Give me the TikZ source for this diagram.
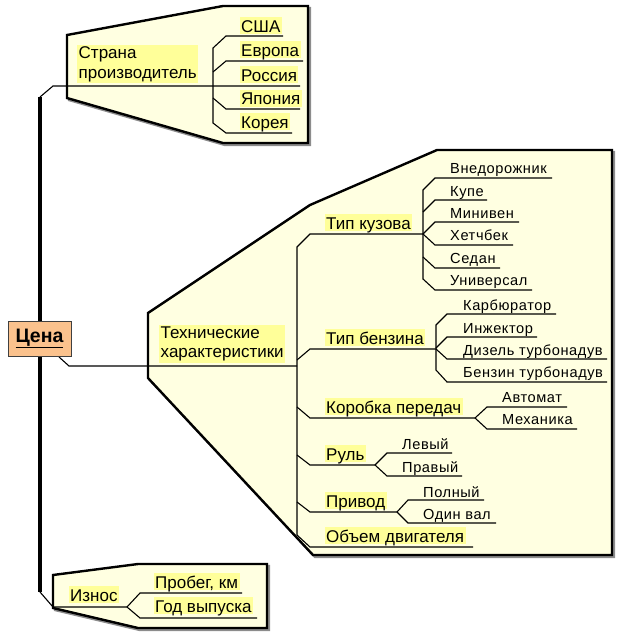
\documentclass[tikz,border=0pt]{standalone}
\usepackage{fontspec}
\setmainfont{Liberation Sans}
\newfontfamily\secfont[LetterSpace=4]{Liberation Sans}
\definecolor{boxfill}{RGB}{255,255,225}
\definecolor{hl}{RGB}{255,255,153}
\definecolor{peach}{RGB}{251,194,141}
\tikzset{
  box/.style={fill=boxfill, draw=black, line width=2.4pt, line join=miter},
  shadowbox/.style={fill=black!45, draw=black!45, line width=2.4pt, line join=miter},
  ln/.style={line width=1.1pt, line join=miter},
  trunk/.style={line width=4pt},
  prim/.style={anchor=base west, fill=hl, inner xsep=1.5pt, inner ysep=1.5pt,
    text height=13.5pt, text depth=0.5pt, font=\fontsize{17}{20}\selectfont},
  primtwo/.style={anchor=north west, fill=hl, inner xsep=1.5pt, inner ysep=1.5pt,
    align=left, font=\fontsize{17}{19.5}\selectfont},
  sec/.style={anchor=base west, inner sep=0pt, font=\fontsize{14.6}{17}\secfont},
  cenabox/.style={fill=peach, draw=black!75, line width=0.8pt, minimum width=63pt,
    minimum height=35pt, inner sep=0pt, font=\fontsize{19.5}{22}\selectfont\bfseries}
}
\begin{document}
\begin{tikzpicture}[x=1pt,y=-1pt]
\useasboundingbox (0,0) rectangle (619,633);
% ---- boxes (shadow + fill)
\begin{scope}[shift={(2,2)}]
\draw[shadowbox] (67,35) -- (223,6) -- (308,6) -- (308,143) -- (223,143) -- (67,98) -- cycle;
\draw[shadowbox] (148,313) -- (310,205) -- (437,150) -- (612,150) -- (612,555) -- (313,555) -- (148,378) -- cycle;
\draw[shadowbox] (53,575) -- (138,564) -- (267,564) -- (267,628) -- (138,628) -- (53,608) -- cycle;
\end{scope}
\draw[box] (67,35) -- (223,6) -- (308,6) -- (308,143) -- (223,143) -- (67,98) -- cycle;
\draw[box] (148,313) -- (310,205) -- (437,150) -- (612,150) -- (612,555) -- (313,555) -- (148,378) -- cycle;
\draw[box] (53,575) -- (138,564) -- (267,564) -- (267,628) -- (138,628) -- (53,608) -- cycle;

% ---- labels
\node[primtwo] (strana) at (77,45) {Страна\\производитель};
\node[prim] (usa) at (239.5,32) {США};
\node[prim] (evropa) at (239.5,56) {Европа};
\node[prim] (rossiya) at (239.5,81) {Россия};
\node[prim] (yaponiya) at (239.5,104.5) {Япония};
\node[prim] (koreya) at (239.5,128) {Корея};

\node[primtwo] (tech) at (159,325) {Технические\\характеристики};
\node[prim] (kuzov) at (324.5,229) {Тип кузова};
\node[prim] (benzin) at (324.5,344) {Тип бензина};
\node[prim] (korobka) at (324.5,413) {Коробка передач};
\node[prim] (rul) at (324.5,460) {Руль};
\node[prim] (privod) at (324.5,507) {Привод};
\node[prim] (obem) at (324.5,542) {Объем двигателя};

\node[sec] (vnedor) at (450,173) {Внедорожник};
\node[sec] (kupe) at (450,196) {Купе};
\node[sec] (miniven) at (450,218) {Минивен};
\node[sec] (hetch) at (450,240.5) {Хетчбек};
\node[sec] (sedan) at (450,263) {Седан};
\node[sec] (univ) at (450,285.5) {Универсал};
\node[sec] (karb) at (463,310.5) {Карбюратор};
\node[sec] (inzh) at (463,333) {Инжектор};
\node[sec] (dizel) at (463,355.5) {Дизель турбонадув};
\node[sec] (bturbo) at (463,377.5) {Бензин турбонадув};
\node[sec] (avtomat) at (502,402) {Автомат};
\node[sec] (mehanika) at (502,424) {Механика};
\node[sec] (levyi) at (402,449) {Левый};
\node[sec] (pravyi) at (402,472) {Правый};
\node[sec] (polnyi) at (423,497) {Полный};
\node[sec] (odinval) at (423,519) {Один вал};

\node[prim] (iznos) at (68.5,601) {Износ};
\node[prim] (probeg) at (153.5,588) {Пробег, км};
\node[prim] (god) at (153.5,612) {Год выпуска};

% ---- connectors: top group
\draw[ln] (40,97) -- (53,86) -- (300,86);
\draw[ln] (303,61) -- (226,61) -- (213,72);
\draw[ln] (283,36) -- (226,36) -- (213,48) -- (213,123) -- (226,133) -- (292,133);
\draw[ln] (213,98) -- (226,109) -- (300,109);

% ---- connectors: technical group
\draw[ln] (59,357) -- (69,366) -- (297,366);
\draw[ln] (423,234) -- (310,234) -- (297,247) -- (297,535) -- (310,547) -- (473,547);
\draw[ln] (297,360) -- (310,349) -- (436,349);
\draw[ln] (297,407) -- (310,418) -- (475,418);
\draw[ln] (297,455) -- (310,465) -- (375,465);
\draw[ln] (297,502) -- (310,512) -- (397,512);
% body types
\draw[ln] (552,178) -- (435,178) -- (423,190) -- (423,279) -- (435,290) -- (532,290);
\draw[ln] (423,212) -- (435,200) -- (487,200);
\draw[ln] (423,234) -- (435,222) -- (519,222);
\draw[ln] (423,234) -- (435,245) -- (513,245);
\draw[ln] (423,257) -- (435,268) -- (500,268);
% fuel
\draw[ln] (556,314) -- (447,314) -- (436,325) -- (436,370) -- (447,382) -- (607,382);
\draw[ln] (436,348) -- (447,337) -- (537,337);
\draw[ln] (436,349) -- (447,359) -- (607,359);
% gearbox
\draw[ln] (475,418) -- (487,407) -- (567,407);
\draw[ln] (475,418) -- (487,429) -- (577,429);
% wheel
\draw[ln] (375,465) -- (387,453) -- (452,453);
\draw[ln] (375,465) -- (387,476) -- (462,476);
% drive
\draw[ln] (397,512) -- (408,500) -- (484,500);
\draw[ln] (397,512) -- (408,523) -- (496,523);

% ---- connectors: wear group
\draw[ln] (40,592) -- (53,607) -- (127,607);
\draw[ln] (127,607) -- (140,593) -- (242,593);
\draw[ln] (127,607) -- (140,618) -- (257,618);

% ---- trunk and root
\draw[trunk] (40,97) -- (40,592);
\node[cenabox] (cena) at (39.5,338.5) {\underline{Цена}};
\end{tikzpicture}
\end{document}
